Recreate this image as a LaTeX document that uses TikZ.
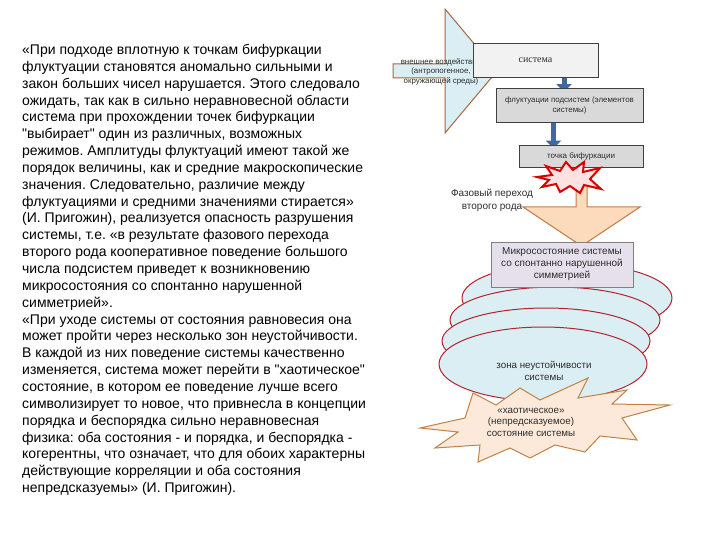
\documentclass[tikz,border=0pt]{standalone}
\usepackage{fontspec}
\setmainfont{Liberation Sans}[Ligatures=TeXOff]
\newfontfamily\serifru{Liberation Serif}
\usetikzlibrary{arrows.meta,shapes.geometric,backgrounds}
\newcommand{\myq}{\symbol{34}}
\definecolor{ltblue}{RGB}{219,238,244}
\definecolor{brownline}{RGB}{165,105,65}
\definecolor{boxline}{RGB}{64,64,64}
\definecolor{arrowblue}{RGB}{65,105,160}
\definecolor{peach}{RGB}{252,218,188}
\definecolor{peachline}{RGB}{195,125,75}
\definecolor{lavender}{RGB}{230,224,236}
\definecolor{ellred}{RGB}{180,35,45}
\definecolor{starfill}{RGB}{253,233,217}
\definecolor{starline}{RGB}{190,130,70}
\definecolor{txt}{RGB}{45,45,45}
\tikzset{
  graybox/.style={draw=boxline, line width=0.9pt, inner sep=0pt, align=center, text=txt},
  bluearr/.style={arrowblue, line width=5pt, -{Triangle[width=15pt,length=8pt]}},
  zone/.style={ellipse, draw=ellred, line width=1pt, fill=ltblue, inner sep=0pt},
  smalltxt/.style={font=\fontsize{7.9}{9.5}\selectfont, text=txt, align=center, inner sep=0pt},
}
\begin{document}
\frenchspacing
\begin{tikzpicture}[x=1pt,y=-1pt]
\useasboundingbox (0,0) rectangle (720,540);

% left text
\node[anchor=north west, inner sep=0pt, align=left, font=\fontsize{14}{16.85}\selectfont] (quote) at (22,44) {%
«При подходе вплотную к точкам бифуркации\\
флуктуации становятся аномально сильными и\\
закон больших чисел нарушается. Этого следовало\\
ожидать, так как в сильно неравновесной области\\
система при прохождении точек бифуркации\\
\myq выбирает\myq{} один из различных, возможных\\
режимов. Амплитуды флуктуаций имеют такой же\\
порядок величины, как и средние макроскопические\\
значения. Следовательно, различие между\\
флуктуациями и средними значениями стирается»\\
(И. Пригожин), реализуется опасность разрушения\\
системы, т.е. «в результате фазового перехода\\
второго рода кооперативное поведение большого\\
числа подсистем приведет к возникновению\\
микросостояния со спонтанно нарушенной\\
симметрией».\\
«При уходе системы от состояния равновесия она\\
может пройти через несколько зон неустойчивости.\\
В каждой из них поведение системы качественно\\
изменяется, система может перейти в \myq хаотическое\myq\\
состояние, в котором ее поведение лучше всего\\
символизирует то новое, что привнесла в концепции\\
порядка и беспорядка сильно неравновесная\\
физика: оба состояния - и порядка, и беспорядка -\\
когерентны, что означает, что для обоих характерны\\
действующие корреляции и оба состояния\\
непредсказуемы» (И. Пригожин).};

% external influence block arrow
\draw[draw=brownline, line width=1pt, fill=ltblue]
  (393,64) -- (445,64) -- (445,9) -- (497,71) -- (445,133) -- (445,78) -- (393,78) -- cycle;
\node[smalltxt] (ext) at (441,71.5) {внешнее воздействие\\(антропогенное,\\окружающей среды)};

% boxes
\node[graybox, fill={rgb,255:red,242;green,242;blue,242}, minimum width=125pt, minimum height=34pt,
  font=\serifru\fontsize{10}{12}\selectfont] (sys) at (535.5,60) {система};
\node[graybox, fill={rgb,255:red,217;green,217;blue,217}, minimum width=147pt, minimum height=34pt,
  font=\fontsize{7.9}{9.5}\selectfont] (fluct) at (569.5,105.5) {флуктуации подсистем (элементов\\системы)};
\node[graybox, fill={rgb,255:red,217;green,217;blue,217}, minimum width=124pt, minimum height=22pt,
  font=\fontsize{8}{9}\selectfont] (bif) at (581,156) {точка бифуркации};

% blue connectors behind boxes
\begin{pgfonlayer}{background}
\draw[bluearr] ([xshift=28.5pt]sys.south) -- ([xshift=-5.5pt,yshift=-4pt]fluct.north);
\draw[bluearr] ([xshift=-16pt]fluct.south) -- ([xshift=-27.5pt,yshift=-4pt]bif.north);
% phase transition block arrow
\draw[draw=peachline, line width=1pt, fill=peach]
  (576,172) -- (587,172) -- (587,207) -- (640,207) -- (581.5,246) -- (523,207) -- (576,207) -- cycle;
\end{pgfonlayer}

% explosion
\draw[draw=red!85!black, line width=2pt, fill={rgb,255:red,255;green,225;blue,225}, line join=miter]
  (537,177) -- (552,175) -- (546,166) -- (560,171) -- (566,162) -- (573,170) -- (584,162) -- (583,172)
  -- (600,168) -- (590,179) -- (601,189) -- (584,185) -- (580,193) -- (570,186) -- (560,192)
  -- (556,184) -- (542,187) -- (549,180) -- cycle;

\node[font=\fontsize{10}{13}\selectfont, text=txt, align=center, inner sep=0pt] (phase) at (492,200.5)
  {Фазовый переход\\второго рода};

% zones of instability
\node[zone, minimum width=210pt, minimum height=70pt] (z1) at (567,298) {};
\node[zone, minimum width=210pt, minimum height=66pt] (z2) at (555,320) {};
\node[zone, minimum width=208pt, minimum height=66pt] (z3) at (546,341) {};
\node[zone, minimum width=208pt, minimum height=74pt] (z4) at (543,364) {};
\node[font=\fontsize{9.8}{12}\selectfont, text=txt, align=center, inner sep=0pt] (zonetxt) at (544,371)
  {зона неустойчивости\\системы};

% microstate box
\node[draw=gray, line width=1pt, fill=lavender, minimum width=142pt, minimum height=45pt, inner sep=0pt,
  align=center, text=txt, font=\fontsize{10}{12}\selectfont] (micro) at (562,264.5)
  {Микросостояние системы\\со спонтанно нарушенной\\симметрией};

% chaotic state star
\draw[draw=starline, line width=1pt, fill=starfill, line join=miter]
  (473,393) -- (496,405) -- (520,388) -- (540,400) -- (588,378) -- (578,398) -- (627,390) -- (612,404)
  -- (670,405) -- (622,418) -- (637,440) -- (600,436) -- (585,452) -- (555,445) -- (530,458)
  -- (510,448) -- (478,462) -- (480,445) -- (435,448) -- (458,432) -- (420,428) -- (465,418) -- cycle;
\node[font=\fontsize{9.8}{11.5}\selectfont, text=txt, align=center, inner sep=0pt] (chaos) at (531,422)
  {«хаотическое»\\(непредсказуемое)\\состояние системы};
\end{tikzpicture}
\end{document}
